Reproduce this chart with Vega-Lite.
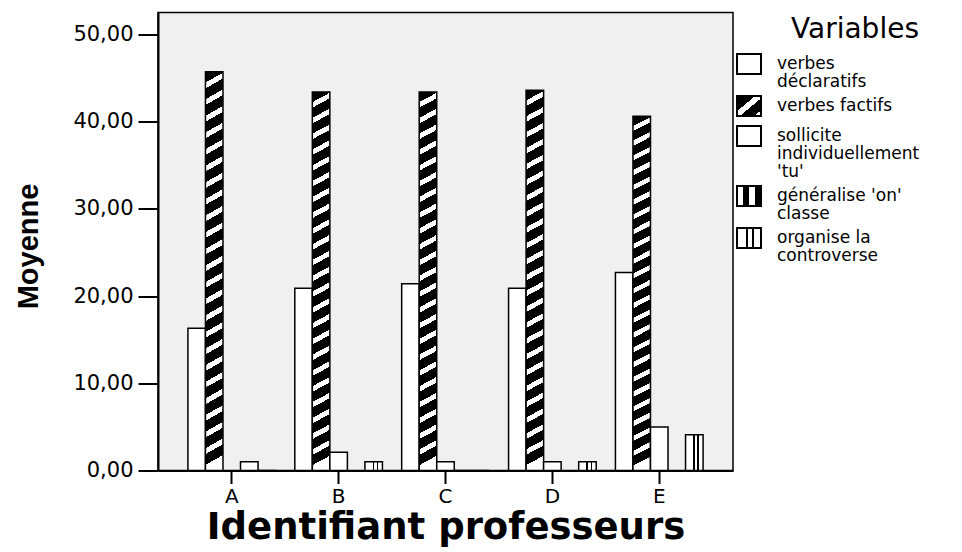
{
  "$schema": "https://vega.github.io/schema/vega-lite/v6.json",
  "width": 575,
  "height": 458,
  "autosize": {"type": "none"},
  "padding": {"left": 158, "top": 12.5, "right": 229, "bottom": 81.5},
  "background": "white",
  "config": {
    "view": {"fill": "#f0f0f0", "stroke": "#000", "strokeWidth": 1.5},
    "font": "DejaVu Sans",
    "axis": {"labelColor": "#000", "titleColor": "#000", "domainColor": "#000", "tickColor": "#000", "domainWidth": 2, "tickWidth": 2, "grid": false}
  },
  "data": {
    "values": [
      {"Professeur": "A", "Variable": "verbes déclaratifs", "Moyenne": 16.3},
      {"Professeur": "A", "Variable": "verbes factifs", "Moyenne": 45.7},
      {"Professeur": "A", "Variable": "généralise 'on' classe", "Moyenne": 1.0},
      {"Professeur": "A", "Variable": "organise la controverse", "Moyenne": 0},
      {"Professeur": "B", "Variable": "verbes déclaratifs", "Moyenne": 20.9},
      {"Professeur": "B", "Variable": "verbes factifs", "Moyenne": 43.4},
      {"Professeur": "B", "Variable": "sollicite individuellement 'tu'", "Moyenne": 2.1},
      {"Professeur": "B", "Variable": "organise la controverse", "Moyenne": 1.0},
      {"Professeur": "C", "Variable": "verbes déclaratifs", "Moyenne": 21.4},
      {"Professeur": "C", "Variable": "verbes factifs", "Moyenne": 43.4},
      {"Professeur": "C", "Variable": "sollicite individuellement 'tu'", "Moyenne": 1.0},
      {"Professeur": "C", "Variable": "généralise 'on' classe", "Moyenne": 0},
      {"Professeur": "C", "Variable": "organise la controverse", "Moyenne": 0},
      {"Professeur": "D", "Variable": "verbes déclaratifs", "Moyenne": 20.9},
      {"Professeur": "D", "Variable": "verbes factifs", "Moyenne": 43.6},
      {"Professeur": "D", "Variable": "sollicite individuellement 'tu'", "Moyenne": 1.0},
      {"Professeur": "D", "Variable": "organise la controverse", "Moyenne": 1.0},
      {"Professeur": "E", "Variable": "verbes déclaratifs", "Moyenne": 22.7},
      {"Professeur": "E", "Variable": "verbes factifs", "Moyenne": 40.6},
      {"Professeur": "E", "Variable": "sollicite individuellement 'tu'", "Moyenne": 5.0},
      {"Professeur": "E", "Variable": "organise la controverse", "Moyenne": 4.1}
    ]
  },
  "mark": {"type": "bar", "stroke": "#000", "strokeWidth": 1.5},
  "encoding": {
    "x": {
      "field": "Professeur", "type": "nominal",
      "scale": {"paddingInner": 0.18, "paddingOuter": 0.28},
      "axis": {
        "title": "Identifiant professeurs", "labelAngle": 0, "labelFont": "DejaVu Sans", "labelFontSize": 20,
        "labelPadding": 3, "tickSize": 13, "titleFont": "DejaVu Sans", "titleFontSize": 37, "titleFontWeight": "bold",
        "titleY": 68, "titleBaseline": "alphabetic"
      }
    },
    "xOffset": {
      "field": "Variable", "type": "nominal",
      "scale": {"domain": ["verbes déclaratifs", "verbes factifs", "sollicite individuellement 'tu'", "généralise 'on' classe", "organise la controverse"], "paddingInner": 0, "paddingOuter": 0}
    },
    "y": {
      "field": "Moyenne", "type": "quantitative",
      "scale": {"domain": [0, 52.5], "nice": false},
      "axis": {
        "title": "Moyenne", "values": [0, 10, 20, 30, 40, 50],
        "labelExpr": "replace(format(datum.value, '.2f'), '.', ',')",
        "labelFont": "DejaVu Sans", "labelFontSize": 21, "labelPadding": 5, "tickSize": 20,
        "titleFont": "Liberation Sans", "titleFontSize": 29, "titleFontWeight": "bold",
        "titleX": -121, "titleY": 233.5, "titleAngle": -90, "titleAlign": "center", "titleBaseline": "alphabetic"
      }
    },
    "fill": {
      "condition": [
        {"test": "datum.Variable == 'verbes factifs'", "value": {"gradient": "linear", "x1": 0, "y1": 0, "x2": 0.025, "y2": 1, "stops": [
            {"offset": 0, "color": "#000"}, {"offset": 0.0271, "color": "#000"}, {"offset": 0.0271, "color": "#fff"}, {"offset": 0.0417, "color": "#fff"},
            {"offset": 0.0417, "color": "#000"}, {"offset": 0.0688, "color": "#000"}, {"offset": 0.0688, "color": "#fff"}, {"offset": 0.0833, "color": "#fff"},
            {"offset": 0.0833, "color": "#000"}, {"offset": 0.1104, "color": "#000"}, {"offset": 0.1104, "color": "#fff"}, {"offset": 0.125, "color": "#fff"},
            {"offset": 0.125, "color": "#000"}, {"offset": 0.1521, "color": "#000"}, {"offset": 0.1521, "color": "#fff"}, {"offset": 0.1667, "color": "#fff"},
            {"offset": 0.1667, "color": "#000"}, {"offset": 0.1938, "color": "#000"}, {"offset": 0.1938, "color": "#fff"}, {"offset": 0.2083, "color": "#fff"},
            {"offset": 0.2083, "color": "#000"}, {"offset": 0.2354, "color": "#000"}, {"offset": 0.2354, "color": "#fff"}, {"offset": 0.25, "color": "#fff"},
            {"offset": 0.25, "color": "#000"}, {"offset": 0.2771, "color": "#000"}, {"offset": 0.2771, "color": "#fff"}, {"offset": 0.2917, "color": "#fff"},
            {"offset": 0.2917, "color": "#000"}, {"offset": 0.3188, "color": "#000"}, {"offset": 0.3188, "color": "#fff"}, {"offset": 0.3333, "color": "#fff"},
            {"offset": 0.3333, "color": "#000"}, {"offset": 0.3604, "color": "#000"}, {"offset": 0.3604, "color": "#fff"}, {"offset": 0.375, "color": "#fff"},
            {"offset": 0.375, "color": "#000"}, {"offset": 0.4021, "color": "#000"}, {"offset": 0.4021, "color": "#fff"}, {"offset": 0.4167, "color": "#fff"},
            {"offset": 0.4167, "color": "#000"}, {"offset": 0.4438, "color": "#000"}, {"offset": 0.4438, "color": "#fff"}, {"offset": 0.4583, "color": "#fff"},
            {"offset": 0.4583, "color": "#000"}, {"offset": 0.4854, "color": "#000"}, {"offset": 0.4854, "color": "#fff"}, {"offset": 0.5, "color": "#fff"},
            {"offset": 0.5, "color": "#000"}, {"offset": 0.5271, "color": "#000"}, {"offset": 0.5271, "color": "#fff"}, {"offset": 0.5417, "color": "#fff"},
            {"offset": 0.5417, "color": "#000"}, {"offset": 0.5688, "color": "#000"}, {"offset": 0.5688, "color": "#fff"}, {"offset": 0.5833, "color": "#fff"},
            {"offset": 0.5833, "color": "#000"}, {"offset": 0.6104, "color": "#000"}, {"offset": 0.6104, "color": "#fff"}, {"offset": 0.625, "color": "#fff"},
            {"offset": 0.625, "color": "#000"}, {"offset": 0.6521, "color": "#000"}, {"offset": 0.6521, "color": "#fff"}, {"offset": 0.6667, "color": "#fff"},
            {"offset": 0.6667, "color": "#000"}, {"offset": 0.6938, "color": "#000"}, {"offset": 0.6938, "color": "#fff"}, {"offset": 0.7083, "color": "#fff"},
            {"offset": 0.7083, "color": "#000"}, {"offset": 0.7354, "color": "#000"}, {"offset": 0.7354, "color": "#fff"}, {"offset": 0.75, "color": "#fff"},
            {"offset": 0.75, "color": "#000"}, {"offset": 0.7771, "color": "#000"}, {"offset": 0.7771, "color": "#fff"}, {"offset": 0.7917, "color": "#fff"},
            {"offset": 0.7917, "color": "#000"}, {"offset": 0.8188, "color": "#000"}, {"offset": 0.8188, "color": "#fff"}, {"offset": 0.8333, "color": "#fff"},
            {"offset": 0.8333, "color": "#000"}, {"offset": 0.8604, "color": "#000"}, {"offset": 0.8604, "color": "#fff"}, {"offset": 0.875, "color": "#fff"},
            {"offset": 0.875, "color": "#000"}, {"offset": 0.9021, "color": "#000"}, {"offset": 0.9021, "color": "#fff"}, {"offset": 0.9167, "color": "#fff"},
            {"offset": 0.9167, "color": "#000"}, {"offset": 0.9438, "color": "#000"}, {"offset": 0.9438, "color": "#fff"}, {"offset": 0.9583, "color": "#fff"},
            {"offset": 0.9583, "color": "#000"}, {"offset": 0.9854, "color": "#000"}, {"offset": 0.9854, "color": "#fff"}, {"offset": 1, "color": "#fff"}
          ]}},
        {"test": "datum.Variable == 'organise la controverse'", "value": {"gradient": "linear", "x1": 0, "y1": 0, "x2": 1, "y2": 0, "stops": [
            {"offset": 0, "color": "#fff"}, {"offset": 0.44, "color": "#fff"}, {"offset": 0.44, "color": "#000"}, {"offset": 0.52, "color": "#000"},
            {"offset": 0.52, "color": "#fff"}, {"offset": 0.68, "color": "#fff"}, {"offset": 0.68, "color": "#000"}, {"offset": 0.76, "color": "#000"},
            {"offset": 0.76, "color": "#fff"}, {"offset": 1, "color": "#fff"}
          ]}},
        {"test": "datum.Variable != 'verbes factifs'", "value": "#ffffff"}
      ],
      "field": "Variable", "type": "nominal",
      "scale": {
        "domain": ["verbes déclaratifs", "verbes factifs", "sollicite individuellement 'tu'", "généralise 'on' classe", "organise la controverse"],
        "range": [
          "#ffffff",
          {"expr": "{gradient: 'linear', x1: 0, y1: 0, x2: 1, y2: 1, stops: [{offset: 0, color: '#000'}, {offset: 0.38, color: '#000'}, {offset: 0.38, color: '#fff'}, {offset: 0.56, color: '#fff'}, {offset: 0.56, color: '#000'}, {offset: 0.86, color: '#000'}, {offset: 0.86, color: '#fff'}, {offset: 1, color: '#fff'}]}"},
          "#ffffff",
          {"expr": "{gradient: 'linear', x1: 0, y1: 0, x2: 1, y2: 0, stops: [{offset: 0, color: '#fff'}, {offset: 0.25, color: '#fff'}, {offset: 0.25, color: '#000'}, {offset: 0.5, color: '#000'}, {offset: 0.5, color: '#fff'}, {offset: 0.75, color: '#fff'}, {offset: 0.75, color: '#000'}, {offset: 1, color: '#000'}]}"},
          {"expr": "{gradient: 'linear', x1: 0, y1: 0, x2: 1, y2: 0, stops: [{offset: 0, color: '#fff'}, {offset: 0.36, color: '#fff'}, {offset: 0.36, color: '#000'}, {offset: 0.44, color: '#000'}, {offset: 0.44, color: '#fff'}, {offset: 0.62, color: '#fff'}, {offset: 0.62, color: '#000'}, {offset: 0.7, color: '#000'}, {offset: 0.7, color: '#fff'}, {offset: 1, color: '#fff'}]}"}
        ]
      },
      "legend": {
        "orient": "none", "legendX": 580, "legendY": 3.5, "padding": 0,
        "title": "Variables", "titleFont": "DejaVu Sans", "titleFontSize": 28, "titleFontWeight": "normal", "titleColor": "#000",
        "titleAnchor": "end", "titlePadding": 9, "titleBaseline": "top",
        "labelFont": "DejaVu Sans", "labelFontSize": 17, "labelColor": "#000", "labelLimit": 300, "labelOffset": 17,
        "symbolType": "M-1.2,-1H1.2V1H-1.2Z", "symbolSize": 400, "symbolStrokeColor": "#000", "symbolStrokeWidth": 2, "symbolOpacity": 1,
        "rowPadding": 2,
        "labelExpr": "datum.label == 'verbes déclaratifs' ? ['verbes', 'déclaratifs'] : datum.label == \"sollicite individuellement 'tu'\" ? ['sollicite', 'individuellement', \"'tu'\"] : datum.label == \"généralise 'on' classe\" ? [\"généralise 'on'\", 'classe'] : datum.label == 'organise la controverse' ? ['organise la', 'controverse'] : datum.label",
        "encode": {
          "labels": {"update": {"lineHeight": {"value": 18}}},
          "symbols": {"update": {
            "stroke": {"value": "#000000"},
            "strokeWidth": {"value": 2},
            "opacity": {"value": 1},
            "fillOpacity": {"value": 1},
            "strokeOpacity": {"value": 1}
          }}
        }
      }
    }
  }
}
